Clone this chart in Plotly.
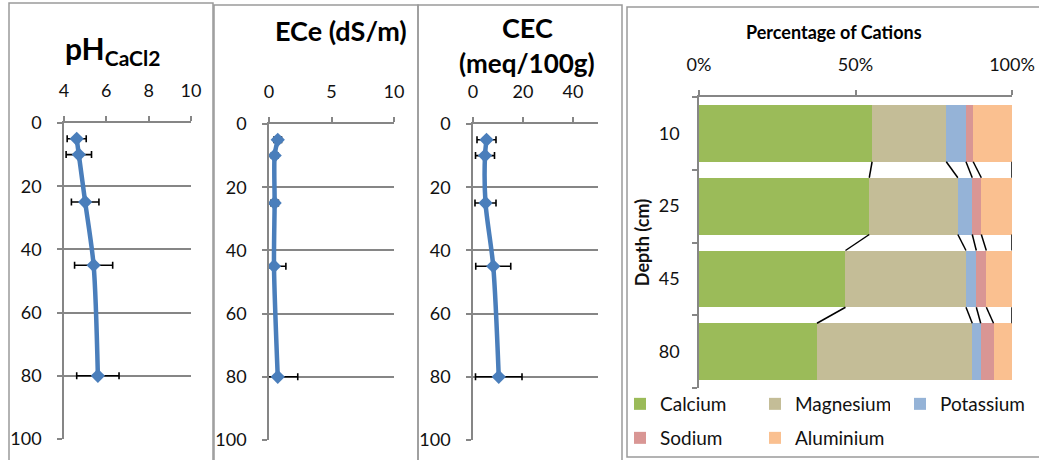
import plotly.graph_objects as go

W, H = 1039, 460

# ---------------- data ----------------
depth = [5, 10, 25, 45, 80]
ph = [4.6, 4.7, 5.0, 5.4, 5.6]
ph_err = [0.45, 0.6, 0.65, 0.9, 1.0]
ece = [0.7, 0.45, 0.45, 0.4, 0.7]
ece_err = [0.3, 0.25, 0.3, 0.95, 1.6]
cec = [5.4, 4.8, 5.0, 8.1, 10.3]
cec_err = [3.8, 3.8, 4.2, 7.0, 9.3]

cat_depths = ["10", "25", "45", "80"]
calcium = [55.3, 54.4, 46.8, 37.7]
magnesium = [23.7, 28.3, 38.5, 49.6]
potassium = [6.3, 4.6, 3.3, 2.7]
sodium = [2.3, 2.9, 3.2, 4.1]
aluminium = [12.4, 9.8, 8.2, 5.9]

cation_names = ["Calcium", "Magnesium", "Potassium", "Sodium", "Aluminium"]
cation_values = [calcium, magnesium, potassium, sodium, aluminium]
cation_colors = ["#9BBB59", "#C4BD97", "#95B3D7", "#D99694", "#FAC090"]
cation_legends = ["legend", "legend", "legend3", "legend2", "legend2"]

pct_ticks = [0, 50, 100]

# ---------------- style ----------------
BLUE = "#4A7EBB"
GRAY = "#868686"
FRAME = "#9a9a9a"
TXT = "#111111"
FONT = "Lato"


def xd(a, b):
    return [a / W, b / W]


def yd(top, bottom):
    return [1 - bottom / H, 1 - top / H]


fig = go.Figure()

profiles = [
    (ph, ph_err, "x", "y"),
    (ece, ece_err, "x2", "y2"),
    (cec, cec_err, "x3", "y3"),
]
for vals, errs, xa, ya in profiles:
    fig.add_trace(go.Scatter(
        x=vals, y=depth, xaxis=xa, yaxis=ya, mode="lines+markers",
        line=dict(color=BLUE, width=4.5, shape="spline", smoothing=0.8),
        marker=dict(symbol="diamond", size=11, color=BLUE),
        error_x=dict(type="data", array=errs, visible=True, color="#000000",
                     thickness=1.6, width=3.5),
        showlegend=False, hoverinfo="skip",
    ))

# stacked bars
ypos = list(range(len(cat_depths)))
bar_w = 0.78
for name, vals, col, lg in zip(cation_names, cation_values, cation_colors, cation_legends):
    fig.add_trace(go.Bar(
        x=vals, y=ypos, orientation="h", name=name, xaxis="x4", yaxis="y4",
        marker=dict(color=col, line=dict(width=0)), width=bar_w,
        legend=lg, hoverinfo="skip",
    ))

# series lines between bars
cum = []
run = [0.0] * len(cat_depths)
for vals in cation_values:
    run = [r + v for r, v in zip(run, vals)]
    cum.append(run[:])
sx, sy = [], []
for c in cum:
    for i in range(len(cat_depths) - 1):
        sx += [c[i], c[i + 1], None]
        sy += [i + bar_w / 2, i + 1 - bar_w / 2, None]
fig.add_trace(go.Scatter(x=sx, y=sy, xaxis="x4", yaxis="y4", mode="lines",
                         line=dict(color="#000000", width=1.5),
                         showlegend=False, hoverinfo="skip", cliponaxis=False))

tick_font = dict(family=FONT, size=18, color=TXT)
xcommon = dict(side="top", showline=True, linecolor=GRAY, linewidth=1.5,
               ticks="outside", ticklen=5, tickcolor=GRAY, tickwidth=1.5,
               showgrid=False, zeroline=False, tickfont=tick_font,
               ticklabelstandoff=12, fixedrange=True, automargin=False)
ycommon = dict(range=[100, 0], tickvals=[0, 20, 40, 60, 80, 100],
               showline=True, linecolor=GRAY, linewidth=1.5,
               ticks="outside", ticklen=5, tickcolor=GRAY, tickwidth=1.5,
               showgrid=True, gridcolor=GRAY, gridwidth=1.5, zeroline=False,
               tickfont=tick_font, ticklabelstandoff=12, fixedrange=True,
               automargin=False)

legend_common = dict(orientation="h", xanchor="left", yanchor="middle",
                     font=dict(family=FONT, size=19, color=TXT),
                     entrywidthmode="pixels", bgcolor="rgba(0,0,0,0)",
                     traceorder="normal")

fig.update_layout(
    width=W, height=H, margin=dict(l=0, r=0, t=0, b=0, pad=0, autoexpand=False),
    paper_bgcolor="white", plot_bgcolor="white",
    font=dict(family=FONT, color=TXT), barmode="stack",
    xaxis=dict(domain=xd(64, 191), range=[4, 10], tickvals=[4, 6, 8, 10], anchor="y", **xcommon),
    yaxis=dict(domain=yd(123, 439), anchor="x", **ycommon),
    xaxis2=dict(domain=xd(269, 394), range=[0, 10], tickvals=[0, 5, 10], anchor="y2", **xcommon),
    yaxis2=dict(domain=yd(124, 440), anchor="x2", **ycommon),
    xaxis3=dict(domain=xd(473, 598), range=[0, 50], tickvals=[0, 20, 40], anchor="y3", **xcommon),
    yaxis3=dict(domain=yd(124, 440), anchor="x3", **ycommon),
    xaxis4=dict(domain=xd(699, 1012), range=[0, 100], tickvals=pct_ticks,
                ticktext=[f"{v}%" for v in pct_ticks], anchor="y4", **xcommon),
    yaxis4=dict(domain=yd(97, 388), anchor="x4", range=[len(cat_depths) - 0.5, -0.5],
                tickvals=ypos, ticktext=cat_depths, showline=True, linecolor=GRAY,
                linewidth=1.5, ticks="", showgrid=False, zeroline=False,
                tickfont=tick_font, ticklabelstandoff=14, fixedrange=True,
                automargin=False,
                minor=dict(tick0=-0.5, dtick=1, ticks="outside", ticklen=5,
                           tickcolor=GRAY, tickwidth=1.5, showgrid=False),
                title=dict(text="<b>Depth (cm)</b>", font=dict(family=FONT, size=18, color=TXT),
                           standoff=4)),
    legend=dict(x=620 / W, y=1 - 404 / H, entrywidth=90, **legend_common),
    legend3=dict(x=900 / W, y=1 - 404 / H, **legend_common),
    legend2=dict(x=620 / W, y=1 - 438 / H, entrywidth=90, **legend_common),
)

# titles
ann = [
    ("<b>pH<sub>CaCl2</sub></b>", 112, 50, 30),
    ("<b>ECe (dS/m)</b>", 341, 31, 27),
    ("<b>CEC</b>", 527, 28, 27),
    ("<b>(meq/100g)</b>", 527, 63, 26),
    ("<b>Percentage of Cations</b>", 834, 32, 18),
]
for text, x, y, size in ann:
    fig.add_annotation(text=text, x=x / W, y=1 - y / H, xref="paper", yref="paper",
                       showarrow=False, xanchor="center", yanchor="middle",
                       font=dict(family=FONT, size=size, color="#000000"))

# chart frames
frames = [(9, 3, 213, 480), (214, 5, 418, 480), (418, 5, 622, 480), (627, 7, 1045, 457)]
for x0, y0, x1, y1 in frames:
    fig.add_shape(type="rect", xref="paper", yref="paper",
                  x0=x0 / W, x1=x1 / W, y0=1 - y1 / H, y1=1 - y0 / H,
                  line=dict(color=FRAME, width=1.5), fillcolor="rgba(0,0,0,0)", layer="above")

fig.write_html(
    "out.html",
    config={"displayModeBar": False},
    post_script="document.body.style.margin='0';document.body.style.padding='0';"
                "document.body.style.overflow='hidden';",
)
